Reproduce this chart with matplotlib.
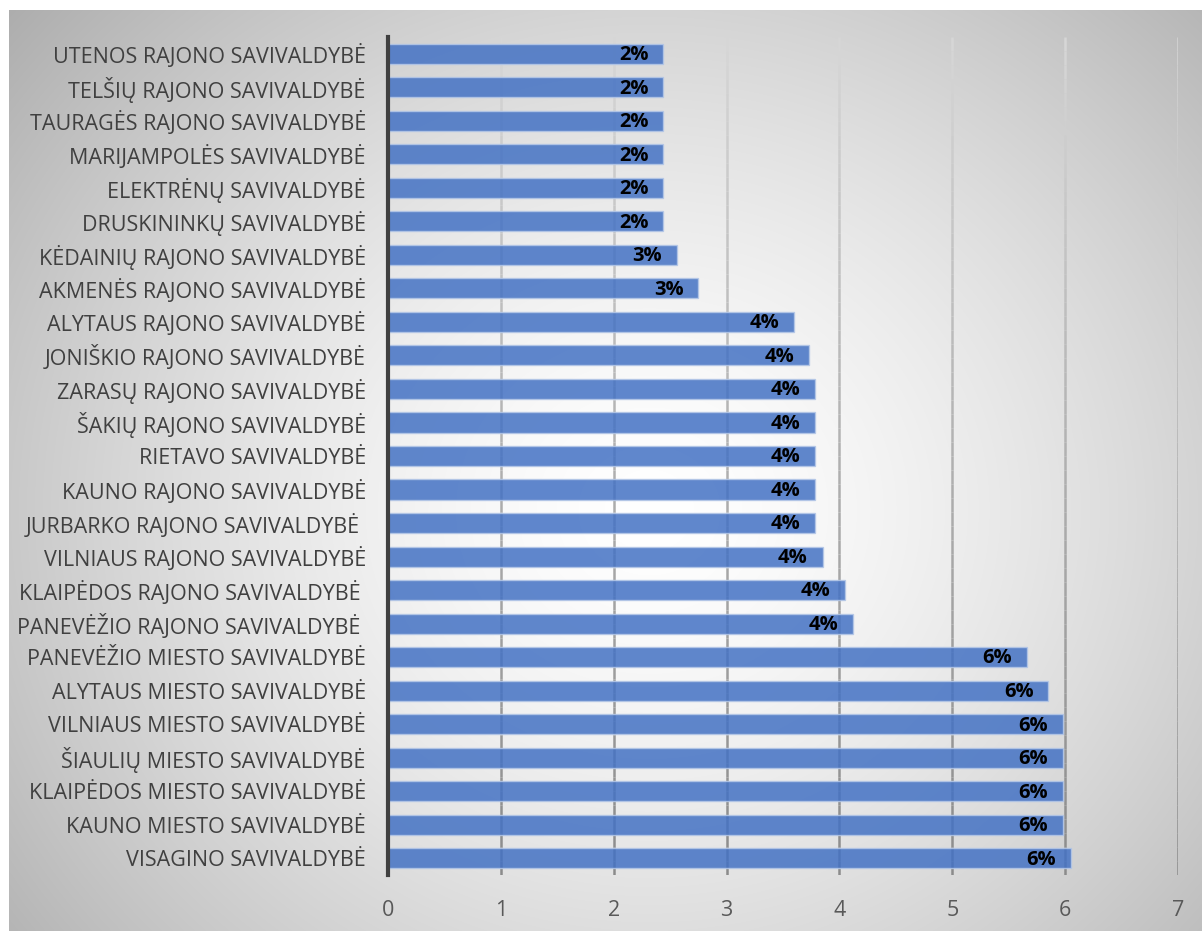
"""Horizontal bar chart of municipality shares, Excel-style gradient background."""
import matplotlib

matplotlib.use("Agg")
import matplotlib.pyplot as plt
import numpy as np
from matplotlib.collections import LineCollection

CATEGORIES = [
    "UTENOS RAJONO SAVIVALDYBĖ",
    "TELŠIŲ RAJONO SAVIVALDYBĖ",
    "TAURAGĖS RAJONO SAVIVALDYBĖ",
    "MARIJAMPOLĖS SAVIVALDYBĖ",
    "ELEKTRĖNŲ SAVIVALDYBĖ",
    "DRUSKININKŲ SAVIVALDYBĖ",
    "KĖDAINIŲ RAJONO SAVIVALDYBĖ",
    "AKMENĖS RAJONO SAVIVALDYBĖ",
    "ALYTAUS RAJONO SAVIVALDYBĖ",
    "JONIŠKIO RAJONO SAVIVALDYBĖ",
    "ZARASŲ RAJONO SAVIVALDYBĖ",
    "ŠAKIŲ RAJONO SAVIVALDYBĖ",
    "RIETAVO SAVIVALDYBĖ",
    "KAUNO RAJONO SAVIVALDYBĖ",
    "JURBARKO RAJONO SAVIVALDYBĖ ",
    "VILNIAUS RAJONO SAVIVALDYBĖ",
    "KLAIPĖDOS RAJONO SAVIVALDYBĖ ",
    "PANEVĖŽIO RAJONO SAVIVALDYBĖ ",
    "PANEVĖŽIO MIESTO SAVIVALDYBĖ",
    "ALYTAUS MIESTO SAVIVALDYBĖ",
    "VILNIAUS MIESTO SAVIVALDYBĖ",
    "ŠIAULIŲ MIESTO SAVIVALDYBĖ",
    "KLAIPĖDOS MIESTO SAVIVALDYBĖ",
    "KAUNO MIESTO SAVIVALDYBĖ",
    "VISAGINO SAVIVALDYBĖ",
]
VALUES = [2.44, 2.44, 2.44, 2.44, 2.44, 2.44, 2.56, 2.75, 3.60, 3.73,
          3.78, 3.78, 3.78, 3.78, 3.78, 3.85, 4.05, 4.12, 5.66, 5.85,
          5.98, 5.98, 5.98, 5.98, 6.05]
LABELS = ["2%", "2%", "2%", "2%", "2%", "2%", "3%", "3%", "4%", "4%",
          "4%", "4%", "4%", "4%", "4%", "4%", "4%", "4%", "6%", "6%",
          "6%", "6%", "6%", "6%", "6%"]
XTICKS = [0, 1, 2, 3, 4, 5, 6, 7]

plt.rcParams["font.family"] = ["Open Sans", "DejaVu Sans"]

W, H = 1202, 931
fig = plt.figure(figsize=(W / 100, H / 100), dpi=100)
fig.patch.set_facecolor("white")

# radial gradient background panel
bg = fig.add_axes([9 / W, 0, 1 - 9 / W, 1 - 10 / H], zorder=-10)
yy, xx = np.mgrid[0:H - 10, 0:W - 9]
r = np.hypot((xx - 640) / 700, (yy - 500) / 640)
shade = np.clip(255 - 62 * r ** 1.5, 0, 255) / 255
bg.imshow(np.dstack([shade] * 3), aspect="auto", interpolation="bilinear")
bg.axis("off")

ax = fig.add_axes([388 / W, 1 - 875 / H, (1178 - 388) / W, (875 - 37) / H])
ax.set_facecolor("none")
n = len(CATEGORIES)
ax.set_xlim(0, 7)
ax.set_ylim(n - 0.5, -0.5)

# vertical gridlines, lighter at the top and darker at the bottom
steps = 60
ys = np.linspace(-0.5, n - 0.5, steps + 1)
segs, cols = [], []
for xt in XTICKS[1:]:
    for i in range(steps):
        segs.append([(xt, ys[i]), (xt, ys[i + 1])])
        g = 0.84 - 0.30 * (i / steps)
        cols.append((g, g, g))
ax.add_collection(LineCollection(segs, colors=cols, linewidths=1.8, zorder=1))

y = np.arange(n)
bars = ax.barh(y, VALUES, height=0.6, color="#4472C4", alpha=0.85,
               edgecolor="#b4c7e7", linewidth=1, zorder=2)
for rect, lab in zip(bars, LABELS):
    ax.text(rect.get_width() - 0.13, rect.get_y() + rect.get_height() / 2 + 0.04,
            lab, ha="right", va="center", fontsize=14.5, fontweight="bold",
            color="black", zorder=4)

ax.set_xticks(XTICKS)
ax.set_yticks(y)
ax.set_yticklabels(CATEGORIES)
ax.tick_params(axis="y", length=0, pad=16, labelsize=15.5, labelcolor="#404040")
ax.tick_params(axis="x", length=0, pad=18, labelsize=15.5, labelcolor="#595959")
for s in ["top", "right", "bottom"]:
    ax.spines[s].set_visible(False)
ax.spines["left"].set_color("#404040")
ax.spines["left"].set_linewidth(3)
ax.spines["left"].set_zorder(5)

fig.savefig("out.png", dpi=100)
